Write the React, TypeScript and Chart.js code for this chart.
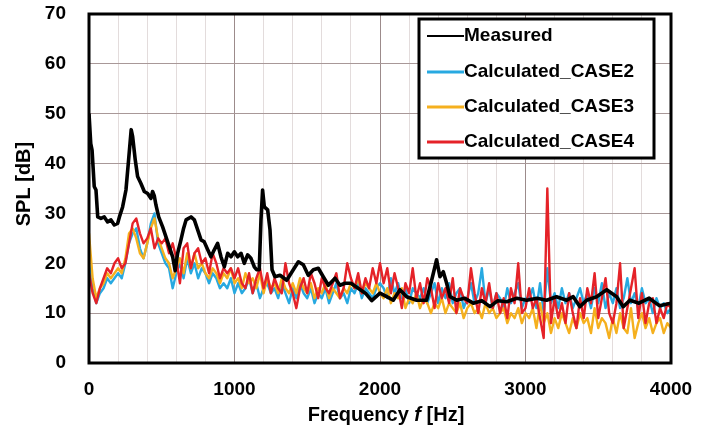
import React, { useEffect, useRef } from 'react';
import { Chart, registerables } from 'chart.js';

Chart.register(...registerables);

const FONT = '"Liberation Sans", Arial, Helvetica, sans-serif';

// Legend labels
const SERIES_NAMES = ['Measured', 'Calculated_CASE2', 'Calculated_CASE3', 'Calculated_CASE4'];
const SERIES_COLORS = ['#000000', '#27a9e1', '#f5b01e', '#e52228'];

// Axis ticks
const X_TICKS = [0, 1000, 2000, 3000, 4000];
const Y_TICKS = [0, 10, 20, 30, 40, 50, 60, 70];

// Measured spectrum (frequency [Hz], SPL [dB])
const MEAS_F = [0, 12, 21, 36, 48, 60, 82, 105, 128, 151, 174, 197, 209, 231, 254, 272, 290, 300, 318, 334, 357, 380, 403, 426, 437, 449, 460, 479, 506, 529, 552, 575, 592, 609, 632, 650, 667, 701, 724, 747, 770, 792, 816, 838, 861, 884, 907, 930, 953, 976, 999, 1022, 1045, 1067, 1090, 1113, 1136, 1152, 1170, 1182, 1193, 1205, 1228, 1244, 1258, 1278, 1313, 1359, 1404, 1439, 1473, 1507, 1542, 1576, 1610, 1645, 1691, 1725, 1759, 1800, 1850, 1900, 1943, 2000, 2046, 2091, 2137, 2183, 2252, 2320, 2355, 2389, 2412, 2435, 2458, 2481, 2527, 2580, 2641, 2700, 2756, 2810, 2871, 2940, 3008, 3080, 3145, 3213, 3283, 3328, 3374, 3420, 3489, 3558, 3626, 3672, 3718, 3780, 3850, 3920, 4000];
const MEAS_DB = [50, 44, 42.7, 35.4, 34.7, 29.3, 29, 29.3, 28.3, 28.7, 27.7, 28, 29.3, 31.3, 34.7, 40.7, 46.8, 45.4, 40.7, 37.4, 36, 34.4, 34, 33, 34.4, 33.5, 31.7, 29.3, 27.3, 25.3, 23.3, 21.3, 18.5, 22, 24.7, 27, 28.7, 29.3, 28.7, 26.7, 24.7, 24.3, 22.7, 21.3, 22.7, 24, 21.3, 19.3, 22, 21.3, 22.3, 21.3, 22, 20, 21.7, 21, 19.3, 18.7, 18.7, 28.7, 34.7, 31.3, 30.7, 26.7, 18.7, 17.3, 17.6, 16.6, 18.7, 20.3, 19.7, 17.6, 18.7, 19, 17.3, 15.6, 17, 15.6, 16, 16, 15, 14, 12.5, 14, 13.3, 12.6, 14.7, 13.3, 12.6, 12.6, 16.6, 20.7, 17.3, 18.3, 16, 13.3, 12.6, 13, 12, 12.5, 11.3, 12.5, 12.3, 13, 12.6, 13, 12.6, 13.3, 12.6, 13.3, 11.3, 12.6, 13.3, 14.7, 13.3, 11.3, 12.6, 12, 13, 11.5, 12];

// Calculated spectra frequency grid [Hz]
const CALC_F = [
  0, 25, 50, 75, 100, 125, 150, 175, 200, 225, 250, 275, 300, 325, 350, 375, 400, 425, 450, 475,
  500, 525, 550, 575, 600, 625, 650, 675, 700, 725, 750, 775, 800, 825, 850, 875, 900, 925, 950, 975, 1000,
  1025, 1050, 1075, 1100, 1125, 1150, 1175, 1200, 1225, 1250, 1275, 1300, 1325, 1350, 1375, 1400, 1425, 1450, 1475, 1500,
  1525, 1550, 1575, 1600, 1625, 1650, 1675, 1700, 1725, 1750, 1775, 1800, 1825, 1850, 1875, 1900, 1925, 1950, 1975, 2000,
  2025, 2050, 2075, 2100, 2125, 2150, 2175, 2200, 2225, 2250, 2275, 2300, 2325, 2350, 2375, 2400, 2425, 2450, 2475, 2500,
  2525, 2550, 2575, 2600, 2625, 2650, 2675, 2700, 2725, 2750, 2775, 2800, 2825, 2850, 2875, 2900, 2925, 2950, 2975, 3000,
  3025, 3050, 3075, 3100, 3125, 3150, 3175, 3200, 3225, 3250, 3275, 3300, 3325, 3350, 3375, 3400, 3425, 3450, 3475, 3500,
  3525, 3550, 3575, 3600, 3625, 3650, 3675, 3700, 3725, 3750, 3775, 3800, 3825, 3850, 3875, 3900, 3925, 3950, 3975, 4000];

const CASE2_DB = [
  20, 15, 12, 14, 15, 17, 16, 17, 18, 17, 20, 24, 26, 27, 23, 21, 24, 28, 30, 24,
  22, 20, 19, 15, 18, 20, 17, 21, 18, 20, 17, 19, 18, 16, 18, 17, 15, 16, 15, 17, 14,
  16, 14, 15, 17, 14, 16, 13, 15, 16, 14, 15, 13, 16, 14, 12, 15, 13, 16, 14, 13,
  15, 12, 14, 13, 15, 12, 14, 16, 13, 14, 12, 15, 14, 16, 13, 15, 14, 13, 15, 16,
  15, 13, 17, 14, 16, 13, 15, 12, 15, 14, 13, 15, 12, 14, 16, 12, 15, 13, 16, 12,
  14, 15, 11, 13, 16, 12, 14, 19, 12, 15, 11, 14, 13, 11, 15, 12, 14, 16, 11, 13,
  13, 15, 11, 16, 10, 19, 12, 14, 11, 15, 12, 14, 11, 13, 15, 12, 14, 11, 15, 12,
  16, 11, 14, 12, 15, 11, 13, 17, 12, 14, 11, 15, 12, 13, 10, 13, 11, 12, 10, 11];

const CASE3_DB = [
  26, 17, 13, 15, 16, 18, 17, 18, 19, 18, 21, 26, 27, 25, 22, 21, 24, 27, 29, 25,
  23, 21, 20, 17, 19, 21, 18, 22, 19, 22, 19, 20, 18, 17, 19, 18, 16, 18, 17, 19, 16,
  17, 15, 18, 16, 17, 15, 18, 14, 17, 15, 16, 14, 17, 15, 14, 16, 14, 17, 15, 14,
  16, 13, 15, 14, 16, 13, 15, 14, 13, 15, 14, 16, 15, 17, 14, 16, 15, 14, 16, 14,
  13, 15, 12, 14, 13, 15, 11, 13, 12, 14, 11, 13, 12, 10, 12, 11, 13, 10, 12, 11,
  10, 12, 9, 11, 12, 10, 11, 9, 12, 10, 11, 9, 10, 11, 8, 10, 9, 11, 8, 10,
  9, 11, 7, 12, 8, 10, 6, 9, 7, 10, 8, 6, 9, 7, 10, 8, 9, 6, 11, 7,
  9, 8, 5, 9, 6, 10, 7, 6, 11, 5, 8, 10, 7, 9, 6, 8, 9, 6, 8, 7];

const CASE4_DB = [
  18, 14, 12, 15, 17, 19, 18, 20, 21, 19, 20, 24, 28, 29, 26, 24, 25, 27, 23, 25,
  24, 25, 22, 24, 21, 16, 23, 24, 19, 22, 23, 20, 21, 18, 22, 20, 17, 19, 18, 19, 17,
  19, 16, 15, 18, 14, 17, 19, 15, 18, 14, 17, 15, 14, 20, 16, 14, 11, 15, 17, 14,
  18, 16, 13, 17, 15, 14, 16, 18, 13, 15, 20, 17, 15, 18, 14, 17, 15, 19, 16, 20,
  16, 19, 14, 18, 15, 11, 16, 14, 19, 13, 16, 12, 17, 15, 11, 16, 13, 15, 12, 17,
  10, 15, 13, 12, 19, 14, 10, 15, 12, 16, 11, 14, 10, 13, 9, 15, 12, 20, 10, 11,
  15, 11, 13, 9, 5, 35, 8, 13, 9, 12, 8, 14, 10, 7, 13, 9, 15, 12, 18, 9,
  13, 17, 10, 8, 12, 20, 7, 11, 15, 19, 9, 14, 8, 12, 13, 8, 11, 9, 12, 11];

const toXY = (xs: number[], ys: number[]) => xs.map((x, i) => ({ x, y: ys[i] }));

export default function App() {
  const ref = useRef<HTMLCanvasElement>(null);

  useEffect(() => {
    if (!ref.current) return;

    const framePlugin = {
      id: 'frame',
      afterDatasetsDraw(chart: any) {
        const { ctx, chartArea: a } = chart;
        ctx.save();
        ctx.strokeStyle = '#000';
        ctx.lineWidth = 3;
        ctx.strokeRect(a.left, a.top, a.right - a.left, a.bottom - a.top);
        ctx.restore();
      },
    };

    const legendPlugin = {
      id: 'boxLegend',
      afterDraw(chart: any) {
        const { ctx, chartArea: a } = chart;
        const left = a.right - 252;
        const top = a.top + 5;
        const w = 235;
        const h = 139;
        ctx.save();
        ctx.fillStyle = '#fff';
        ctx.fillRect(left, top, w, h);
        ctx.strokeStyle = '#000';
        ctx.lineWidth = 3;
        ctx.strokeRect(left, top, w, h);
        const rows = [17, 53, 88, 123];
        ctx.font = `bold 19px ${FONT}`;
        ctx.textBaseline = 'middle';
        ctx.textAlign = 'left';
        SERIES_NAMES.forEach((name, i) => {
          const y = top + rows[i];
          ctx.strokeStyle = SERIES_COLORS[i];
          ctx.lineWidth = i === 0 ? 2 : 3;
          ctx.beginPath();
          ctx.moveTo(left + 8, y);
          ctx.lineTo(left + 45, y);
          ctx.stroke();
          ctx.fillStyle = '#000';
          ctx.fillText(name, left + 45, y);
        });
        ctx.restore();
      },
    };

    const titlePlugin = {
      id: 'axisTitles',
      afterDraw(chart: any) {
        const { ctx } = chart;
        ctx.save();
        ctx.fillStyle = '#000';
        ctx.textBaseline = 'middle';
        ctx.save();
        ctx.translate(24, 184);
        ctx.rotate(-Math.PI / 2);
        ctx.textAlign = 'center';
        ctx.font = `bold 20px ${FONT}`;
        ctx.fillText('SPL [dB]', 0, 0);
        ctx.restore();
        const parts = [
          { t: 'Frequency ', f: `bold 20px ${FONT}` },
          { t: 'f', f: `italic bold 20px ${FONT}` },
          { t: ' [Hz]', f: `bold 20px ${FONT}` },
        ];
        let total = 0;
        parts.forEach((p) => {
          ctx.font = p.f;
          total += ctx.measureText(p.t).width;
        });
        let x = 386 - total / 2;
        ctx.textAlign = 'left';
        parts.forEach((p) => {
          ctx.font = p.f;
          ctx.fillText(p.t, x, 415);
          x += ctx.measureText(p.t).width;
        });
        ctx.restore();
      },
    };

    const chart = new Chart(ref.current, {
      type: 'line',
      data: {
        datasets: [
          { label: SERIES_NAMES[0], data: toXY(MEAS_F, MEAS_DB), borderColor: SERIES_COLORS[0], borderWidth: 3.6 },
          { label: SERIES_NAMES[3], data: toXY(CALC_F, CASE4_DB), borderColor: SERIES_COLORS[3], borderWidth: 2.4 },
          { label: SERIES_NAMES[2], data: toXY(CALC_F, CASE3_DB), borderColor: SERIES_COLORS[2], borderWidth: 2.4 },
          { label: SERIES_NAMES[1], data: toXY(CALC_F, CASE2_DB), borderColor: SERIES_COLORS[1], borderWidth: 2.4 },
        ].map((d) => ({ ...d, pointRadius: 0, tension: 0, fill: false, borderJoinStyle: 'round' as const })),
      },
      options: {
        animation: false,
        responsive: true,
        maintainAspectRatio: false,
        layout: { padding: { top: 14, right: 35, left: 0, bottom: 0 } },
        plugins: { legend: { display: false }, tooltip: { enabled: false } },
        scales: {
          x: {
            type: 'linear',
            min: X_TICKS[0],
            max: X_TICKS[X_TICKS.length - 1],
            afterFit: (s: any) => { s.height = 67; s.paddingLeft = 0; s.paddingRight = 0; },
            ticks: {
              stepSize: 200,
              autoSkip: false,
              maxRotation: 0,
              padding: 15,
              color: '#000',
              font: { family: FONT, size: 19, weight: 'bold' },
              callback: (v: any) => (X_TICKS.includes(Number(v)) ? String(v) : ''),
            },
            grid: {
              drawTicks: false,
              color: (c: any) => (c.tick && c.tick.value % 1000 === 0 ? '#9c8b8b' : '#e3dcdc'),
              lineWidth: 1,
            },
            border: { display: false },
          },
          y: {
            min: Y_TICKS[0],
            max: Y_TICKS[Y_TICKS.length - 1],
            afterFit: (s: any) => { s.width = 89; s.paddingTop = 0; s.paddingBottom = 0; },
            ticks: {
              stepSize: 10,
              padding: 23,
              color: '#000',
              font: { family: FONT, size: 19, weight: 'bold' },
            },
            grid: { drawTicks: false, color: '#a89898', lineWidth: 1 },
            border: { display: false },
          },
        },
      },
      plugins: [framePlugin, legendPlugin, titlePlugin],
    });

    return () => chart.destroy();
  }, []);

  return (
    <div style={{ position: 'fixed', left: 0, top: 0, width: 706, height: 430, background: '#fff' }}>
      <canvas ref={ref} />
    </div>
  );
}
